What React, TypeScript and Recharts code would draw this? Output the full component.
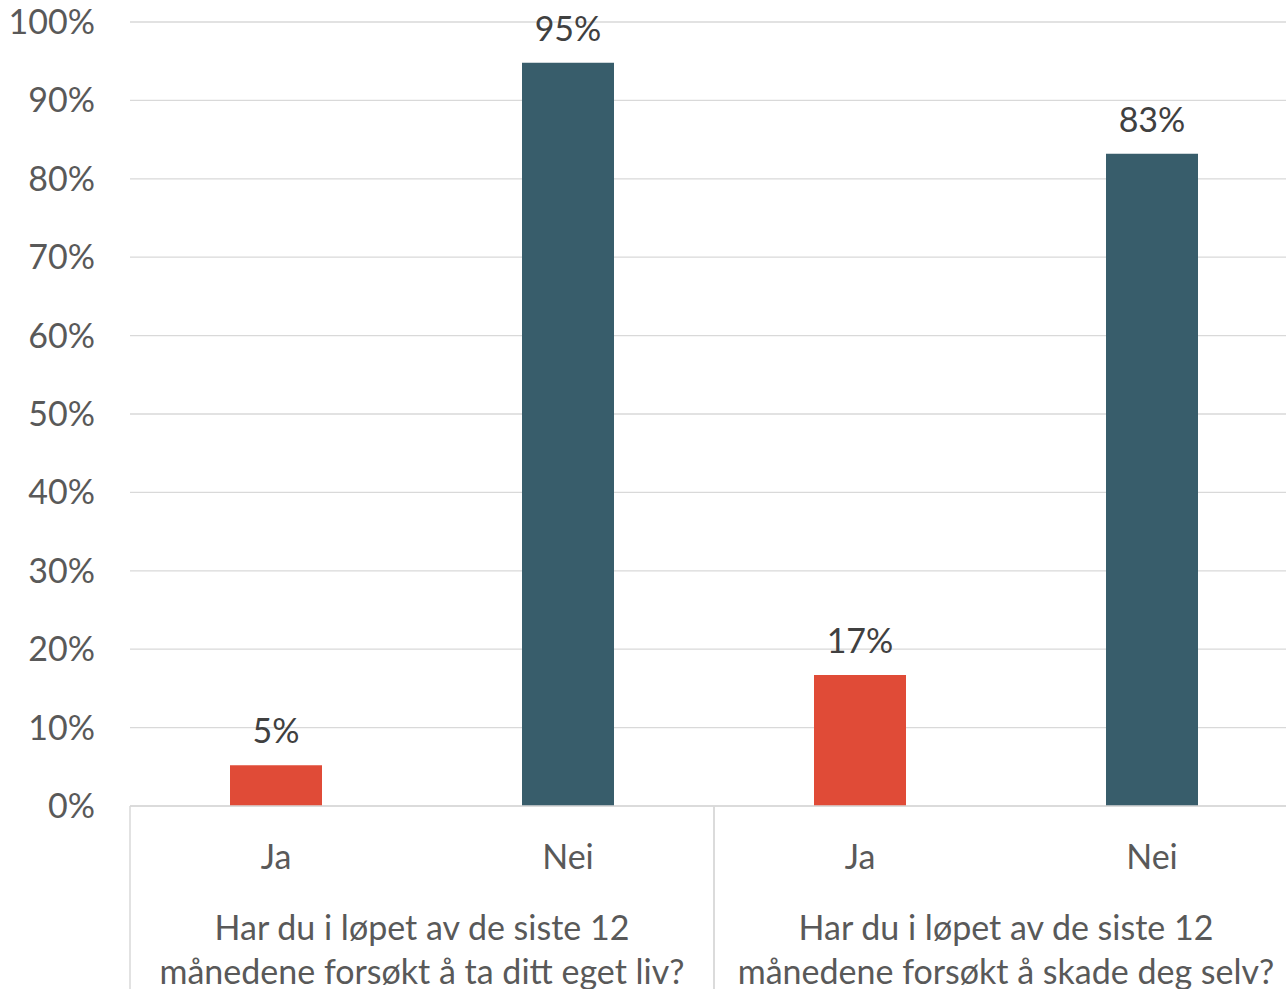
import React from "react";
import { BarChart, Bar, XAxis, YAxis, CartesianGrid, LabelList, Cell } from "recharts";

const answers = ["Ja", "Nei", "Ja", "Nei"];
const groups = [
  "Har du i løpet av de siste 12|månedene forsøkt å ta ditt eget liv?",
  "Har du i løpet av de siste 12|månedene forsøkt å ta ditt eget liv?",
  "Har du i løpet av de siste 12|månedene forsøkt å skade deg selv?",
  "Har du i løpet av de siste 12|månedene forsøkt å skade deg selv?",
];
const values = [5.2, 94.8, 16.7, 83.2];
const valueLabels = ["5%", "95%", "17%", "83%"];
const barColors = ["#E04B37", "#385D6B", "#E04B37", "#385D6B"];
const yTicks = [0, 10, 20, 30, 40, 50, 60, 70, 80, 90, 100];

const data = answers.map((a, i) => ({
  key: `${i}`,
  answer: a,
  group: groups[i],
  value: values[i],
  label: valueLabels[i],
}));

const FONT = "Lato, 'Open Sans', sans-serif";
const FS = 34;
const AX1_H = 70;
const AX2_H = 113;

const AnswerTick = (props: any) => {
  const { x, y, index } = props;
  return (
    <text x={x} y={y + 49} textAnchor="middle" dominantBaseline="central" fill="#595959" fontSize={FS} fontFamily={FONT}>
      {answers[index]}
    </text>
  );
};

const GroupTick = (props: any) => {
  const { x, y, payload } = props;
  const lines = String(payload.value).split("|");
  const off = payload.offset || 0;
  return (
    <g>
      <line x1={x - off} x2={x - off} y1={y - AX1_H} y2={y + AX2_H} stroke="#d9d9d9" strokeWidth={1.5} />
      <line x1={x + off} x2={x + off} y1={y - AX1_H} y2={y + AX2_H} stroke="#d9d9d9" strokeWidth={1.5} />
      {lines.map((l, i) => (
        <text key={i} x={x} y={y + 50 + i * 44} textAnchor="middle" dominantBaseline="central" fill="#595959" fontSize={FS} fontFamily={FONT}>
          {l}
        </text>
      ))}
    </g>
  );
};

export default function App() {
  return (
    <div style={{ position: "absolute", left: 0, top: 0, width: 1286, height: 989, overflow: "hidden", background: "#fff" }}>
      <BarChart width={1310} height={989} data={data} margin={{ top: 22, right: 12, left: 0, bottom: 0 }}>
        <CartesianGrid vertical={false} stroke="#d9d9d9" strokeWidth={1.3} />
        <XAxis
          dataKey="key"
          height={AX1_H}
          tickLine={false}
          tickSize={0}
          tickMargin={0}
          axisLine={{ stroke: "#d9d9d9", strokeWidth: 1.5 }}
          tick={<AnswerTick />}
          interval={0}
        />
        <XAxis
          xAxisId="group"
          dataKey="group"
          allowDuplicatedCategory={false}
          height={AX2_H}
          tickLine={false}
          tickSize={0}
          tickMargin={0}
          axisLine={false}
          tick={<GroupTick />}
          interval={0}
        />
        <YAxis
          width={130}
          domain={[0, 100]}
          ticks={yTicks}
          tickFormatter={(v: number) => `${v}%`}
          tickLine={false}
          axisLine={false}
          tickSize={0}
          tickMargin={35}
          tick={{ fill: "#595959", fontSize: FS, fontFamily: FONT }}
          interval={0}
        />
        <Bar dataKey="value" barSize={92} isAnimationActive={false}>
          {data.map((d, i) => (
            <Cell key={d.key} fill={barColors[i]} />
          ))}
          <LabelList dataKey="label" position="top" offset={22} fill="#404040" fontSize={FS} fontFamily={FONT} />
        </Bar>
      </BarChart>
    </div>
  );
}
